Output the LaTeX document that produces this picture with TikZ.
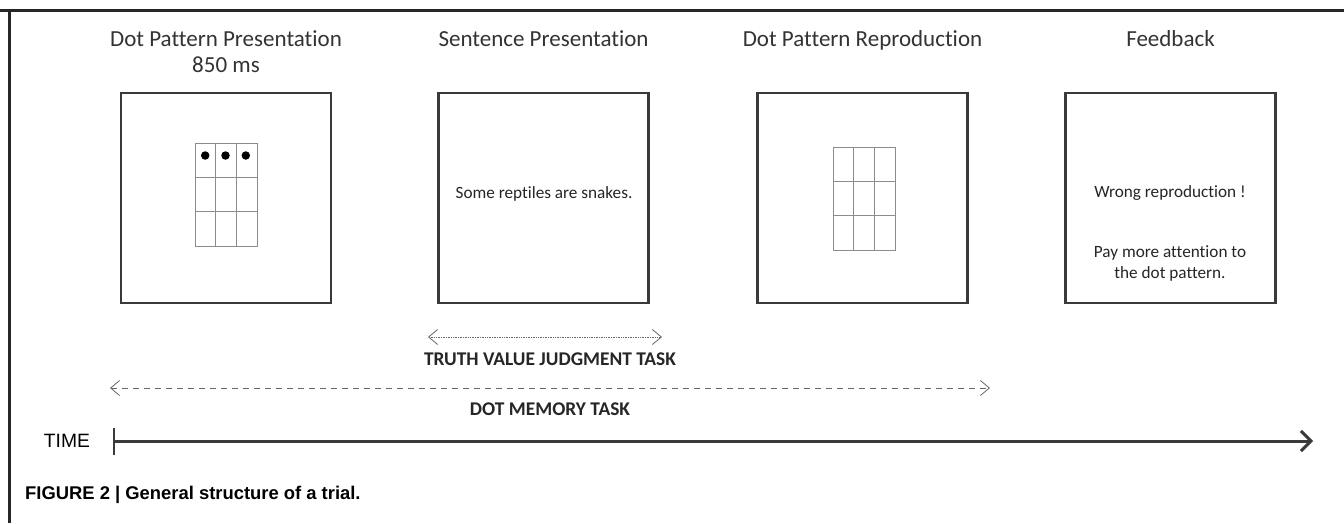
\documentclass[tikz,border=0pt]{standalone}
\usepackage{fontspec}
\setmainfont{Carlito}[Ligatures=NoCommon]
\newfontfamily\capfont{Liberation Sans}
\usetikzlibrary{arrows.meta}
\pgfdeclarelayer{edgelayer}
\pgfdeclarelayer{nodelayer}
\pgfsetlayers{edgelayer,nodelayer,main}
\definecolor{ink}{RGB}{58,58,58}
\definecolor{cellgray}{RGB}{140,140,140}
\tikzstyle{screen}=[rectangle,draw=ink,line width=2.6pt,minimum width=210pt,minimum height=210pt,inner sep=0pt]
\tikzstyle{title}=[font=\fontsize{23}{26}\selectfont,text=black!80,inner sep=0pt,anchor=base]
\tikzstyle{msg}=[font=\fontsize{17.2}{21}\selectfont,text=black!85,inner sep=0pt,anchor=base]
\tikzstyle{task}=[font=\bfseries\fontsize{19.4}{22}\selectfont,text=black!85,inner sep=0pt,anchor=base]
\tikzstyle{cell}=[draw=cellgray,line width=1pt]
\tikzstyle{dot}=[circle,fill=black,inner sep=0pt,minimum size=8.5pt]
\tikzstyle{span}=[draw=black!60,line width=0.7pt,{Straight Barb[length=9pt,width=15pt,line width=0.8pt]}-{Straight Barb[length=9pt,width=15pt,line width=0.8pt]}]
\tikzstyle{timeline}=[draw=ink,line width=3pt,-{Straight Barb[length=10pt,width=20pt,line width=3pt]}]

\begin{document}
\begin{tikzpicture}[x=1pt,y=-1pt]
					\useasboundingbox (0,0) rectangle (1344,523);
					\begin{pgfonlayer}{nodelayer}
						% screens
						\node [style=screen] (0) at (226,198) {};
						\node [style=screen] (1) at (543.5,198) {};
						\node [style=screen] (2) at (862.5,198) {};
						\node [style=screen] (3) at (1170.5,198) {};
						% headings
						\node [style=title] (4) at (226,46) {Dot Pattern Presentation};
						\node [style=title] (5) at (226,72.5) {850 ms};
						\node [style=title] (6) at (543.5,46) {Sentence Presentation};
						\node [style=title] (7) at (862.5,46) {Dot Pattern Reproduction};
						\node [style=title] (8) at (1170.5,46) {Feedback};
						% screen contents
						\node [style=msg] (9) at (544,198) {Some reptiles are snakes.};
						\node [style=msg] (10) at (1170,197) {Wrong reproduction !};
						\node [style=msg] (11) at (1170,257) {Pay more attention to};
						\node [style=msg] (19) at (1170,278) {the dot pattern.};
						\node [style=dot] (12) at (205.2,155.5) {};
						\node [style=dot] (13) at (225.5,155.5) {};
						\node [style=dot] (14) at (245.8,155.5) {};
						% tasks
						\node [style=task] (15) at (550,365.5) {TRUTH VALUE JUDGMENT TASK};
						\node [style=task] (16) at (550,415.5) {DOT MEMORY TASK};
						\node [font=\capfont\fontsize{19.3}{22}\selectfont,inner sep=0pt,anchor=base] (17) at (67,447.5) {TIME};
						\node [font=\capfont\bfseries\fontsize{18.4}{20}\selectfont,anchor=base west,inner sep=0pt] (18) at (25,499) {FIGURE 2 | General structure of a trial.};
						\coordinate (20) at (428,337);
						\coordinate (21) at (662,337);
						\coordinate (22) at (110,388);
						\coordinate (23) at (990,388);
						\coordinate (24) at (114,441);
						\coordinate (25) at (1313,441);
						\coordinate (26) at (114,428);
						\coordinate (27) at (114,455);
					\end{pgfonlayer}
					\begin{pgfonlayer}{edgelayer}
						\fill [white] (0,0) rectangle (1344,523);
						\draw [line width=3pt,draw=black!85] (0,10) -- (1344,10);
						\draw [line width=3pt,draw=black!85] (9,10) -- (9,523);
						\foreach \ox/\oy in {195/143,833/147} {
							\draw [style=cell] (\ox,\oy) rectangle ++(62,103);
							\draw [style=cell] (\ox+20.7,\oy) -- ++(0,103);
							\draw [style=cell] (\ox+41.3,\oy) -- ++(0,103);
							\draw [style=cell] (\ox,\oy+34.3) -- ++(62,0);
							\draw [style=cell] (\ox,\oy+68.7) -- ++(62,0);
						}
						\draw [style=span,densely dotted] (20) -- (21);
						\draw [style=span,dash pattern=on 6pt off 5pt] (22) -- (23);
						\draw [style=timeline] (24) -- (25);
						\draw [draw=ink,line width=1.2pt] (26) -- (27);
					\end{pgfonlayer}
				\end{tikzpicture}
\end{document}
